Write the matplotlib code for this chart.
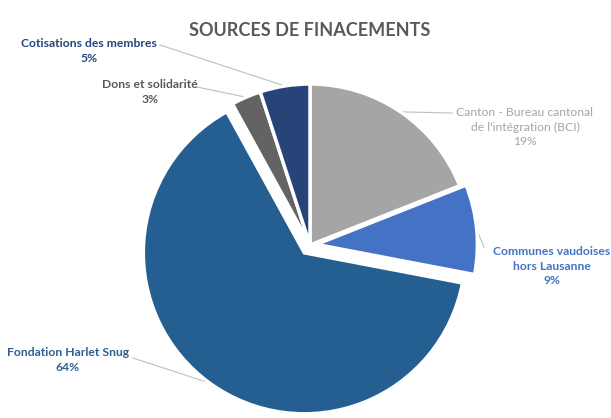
import matplotlib
matplotlib.use("Agg")
import matplotlib.pyplot as plt
import numpy as np

title = "SOURCES DE FINACEMENTS"
categories = ["Canton - Bureau cantonal\nde l'intégration (BCI)", "Communes vaudoises\nhors Lausanne",
              "Fondation Harlet Snug", "Dons et solidarité", "Cotisations des membres"]
values = [19, 9, 64, 3, 5]
pct_labels = ["19%", "9%", "64%", "3%", "5%"]
colors = ["#A5A5A5", "#4472C4", "#255E91", "#636363", "#264478"]
label_colors = ["#A5A5A5", "#4472C4", "#2E5F92", "#595959", "#264478"]
explode = [0.0, 0.04, 0.06, 0.0, 0.0]

W, H = 611, 418
CX, CY, R = 310, 245, 161

def px(x, y):
    return ((x - CX) / R, (CY - y) / R)

fig = plt.figure(figsize=(W / 100, H / 100), dpi=100)
ax = fig.add_axes([0, 0, 1, 1])
x0, y0 = px(0, H)
x1, y1 = px(W, 0)

wedges, _ = ax.pie(values, colors=colors, startangle=90, counterclock=False,
                   explode=explode, radius=1.0, center=(0, 0),
                   wedgeprops=dict(edgecolor="white", linewidth=2.5),
                   frame=True)
ax.set_xlim(x0, x1)
ax.set_ylim(y0, y1)
ax.set_aspect("auto")
ax.set_axis_off()

fig.text(CX / W, 1 - 30 / H, title, ha="center", va="center", fontsize=13,
         fontweight="bold", color="#595959", family="Lato")

# label centres (pixels) and leader start points (pixels)
label_pos = [(525, 127), (552, 266), (68, 360), (150, 92), (89, 51)]
leader_start = [(452, 113), (484, 247), (133, 358), (197, 87), (160, 45)]
weights = ["normal", "bold", "bold", "bold", "bold"]

for i, w in enumerate(wedges):
    ang = np.deg2rad((w.theta1 + w.theta2) / 2)
    cx, cy = w.center
    tip = (cx + np.cos(ang) * 1.0, cy + np.sin(ang) * 1.0)
    lx, ly = px(*label_pos[i])
    ax.text(lx, ly, f"{categories[i]}\n{pct_labels[i]}", ha="center", va="center",
            fontsize=8.7, fontweight=weights[i], color=label_colors[i], family="Lato",
            linespacing=1.35)
    sx, sy = px(*leader_start[i])
    ax.plot([sx, tip[0]], [sy, tip[1]], color="#BFBFBF", lw=0.8, zorder=0.5)

fig.savefig("out.png", dpi=100, facecolor="white")
